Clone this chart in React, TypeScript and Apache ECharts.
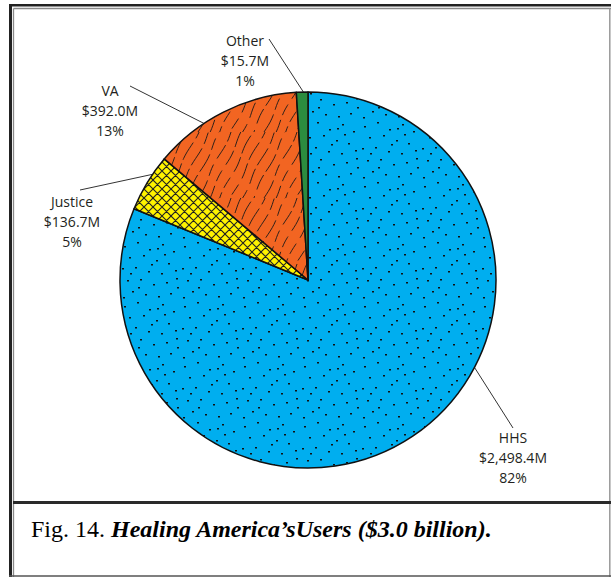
import React, { useEffect, useRef } from "react";
import * as echarts from "echarts";

// ---- data ----
const categories = ["HHS", "Justice", "VA", "Other"];
const amounts = [2498.4, 136.7, 392.0, 15.7]; // $ millions (shown in labels)
const percents = [82, 5, 13, 1]; // slice sizes as drawn (rounded percentages)
const captionLead = "Fig. 14. ";
const captionTitle = "Healing America’sUsers ($3.0 billion).";

// ---- layout / style ----
const W = 611;
const H = 577;
const CX = 308;
const CY = 280;
const R = 188;
const LABEL_POS = [
  { x: 513, y: 457, end: [513, 428], angle: 117.7 },
  { x: 72, y: 221, end: [80, 190], angle: 304.2 },
  { x: 110, y: 110, end: [130, 86], angle: 326.4 },
  { x: 245, y: 60, end: [269, 39], angle: 358.6 },
];
const DOTS = [
  [4, 6], [17, 2], [29, 9], [42, 4], [53, 11], [9, 17], [23, 15], [36, 20], [48, 23], [2, 28],
  [15, 27], [28, 31], [41, 33], [55, 30], [7, 40], [20, 39], [33, 44], [46, 42], [57, 47], [12, 51],
  [25, 54], [38, 56], [50, 53], [3, 57], [31, 24], [44, 14], [18, 47], [56, 38], [10, 33], [37, 8],
];

function makeCanvas(w: number, h: number) {
  const c = document.createElement("canvas");
  c.width = w;
  c.height = h;
  return c;
}

function dotsTexture() {
  const c = makeCanvas(60, 60);
  const g = c.getContext("2d")!;
  g.fillStyle = "#00AEEF";
  g.fillRect(0, 0, 60, 60);
  g.fillStyle = "#111";
  DOTS.forEach(([x, y]) => g.fillRect(x, y, 2, 1.5));
  return c;
}

function hatchTexture() {
  const s = 18;
  const c = makeCanvas(s, s);
  const g = c.getContext("2d")!;
  g.fillStyle = "#FFF200";
  g.fillRect(0, 0, s, s);
  g.strokeStyle = "#222";
  g.lineWidth = 1.1;
  g.beginPath();
  for (let off = -s; off <= s; off += 9) {
    g.moveTo(off, 0);
    g.lineTo(off + s, s);
    g.moveTo(off, s);
    g.lineTo(off + s, 0);
  }
  g.stroke();
  return c;
}

function woodTexture() {
  const s = 66;
  const c = makeCanvas(s, s);
  const g = c.getContext("2d")!;
  g.fillStyle = "#F26522";
  g.fillRect(0, 0, s, s);
  g.strokeStyle = "#1a1a1a";
  g.lineWidth = 0.9;
  g.setLineDash([20, 5, 12, 7, 16, 4]);
  for (let i = 0; i < 6; i++) {
    for (let sx = -1; sx <= 1; sx++) {
      for (let sy = -1; sy <= 1; sy++) {
        const x0 = i * 11 + sx * s;
        const y0 = s + sy * s;
        g.lineDashOffset = i * 7;
        g.beginPath();
        for (let t = 0; t <= 1.0001; t += 0.05) {
          const wig = Math.sin(t * Math.PI * 3 + i * 1.7) * 1.2;
          const x = x0 + t * 33 + wig;
          const y = y0 - t * s;
          if (t === 0) g.moveTo(x, y);
          else g.lineTo(x, y);
        }
        g.stroke();
      }
    }
  }
  return c;
}

function fmtMoney(v: number) {
  return v.toLocaleString("en-US", { minimumFractionDigits: 1, maximumFractionDigits: 1 });
}

export default function App() {
  const ref = useRef<HTMLDivElement>(null);
  useEffect(() => {
    if (!ref.current) return;
    const chart = echarts.init(ref.current, null, { renderer: "svg", width: W, height: H });
    const pat = (c: HTMLCanvasElement) => ({
      image: c,
      repeat: "repeat",
      imageWidth: c.width,
      imageHeight: c.height,
    });
    const fills = [pat(dotsTexture()), pat(hatchTexture()), pat(woodTexture()), "#2C8C3F"];
    const frameLine = (x1: number, y1: number, x2: number, y2: number, w: number, color: string) => ({
      type: "line",
      shape: { x1, y1, x2, y2 },
      style: { stroke: color, lineWidth: w },
      silent: true,
    });
    chart.setOption({
      animation: false,
      backgroundColor: "#ffffff",
      series: [
        {
          type: "pie",
          center: [CX, CY],
          radius: R,
          startAngle: 90,
          clockwise: true,
          avoidLabelOverlap: false,
          itemStyle: { borderColor: "#111", borderWidth: 1.5 },
          label: {
            show: true,
            position: "outside",
            fontFamily: "Open Sans",
            fontSize: 14,
            lineHeight: 20,
            color: "#231f20",
            align: "center",
            formatter: (p: any) =>
              `${p.name}\n$${fmtMoney(amounts[p.dataIndex])}M\n${percents[p.dataIndex]}%`,
          },
          labelLine: {
            show: true,
            length: 10,
            length2: 10,
            smooth: false,
            lineStyle: { color: "#333", width: 1 },
          },
          labelLayout: (params: any) => {
            const L = LABEL_POS[params.dataIndex];
            const a = (L.angle * Math.PI) / 180;
            const p = [CX + R * Math.sin(a), CY - R * Math.cos(a)];
            return {
              x: L.x,
              y: L.y,
              align: "center",
              verticalAlign: "middle",
              labelLinePoints: [p, L.end],
            };
          },
          emphasis: { disabled: true },
          data: categories.map((name, i) => ({
            name,
            value: percents[i],
            itemStyle: { color: fills[i] },
          })),
        },
      ],
      graphic: [
        frameLine(9, 5.3, W, 5.3, 2.6, "#222"),
        frameLine(10.5, 4, 10.5, H, 3, "#222"),
        frameLine(13.5, 8.5, W, 8.5, 1.3, "#8a8a8a"),
        frameLine(13.5, 8.5, 13.5, H, 1.3, "#8a8a8a"),
        frameLine(609.8, 8.5, 609.8, H, 1.5, "#999"),
        frameLine(13, 502.5, W, 502.5, 3, "#2a2a2a"),
        frameLine(9, 576, W, 576, 1.5, "#555"),
        {
          type: "text",
          left: 31,
          top: 517,
          silent: true,
          style: {
            text: `{a|${captionLead}}{b|${captionTitle}}`,
            rich: {
              a: {
                fontFamily: "Liberation Serif",
                fontSize: 24,
                color: "#231f20",
              },
              b: {
                fontFamily: "Liberation Serif",
                fontSize: 24,
                fontStyle: "italic",
                fontWeight: "bold",
                color: "#2a2a2a",
              },
            },
          },
        },
      ],
    });
    return () => chart.dispose();
  }, []);
  return (
    <div
      ref={ref}
      style={{ position: "absolute", left: 0, top: 0, width: W, height: H }}
    />
  );
}
